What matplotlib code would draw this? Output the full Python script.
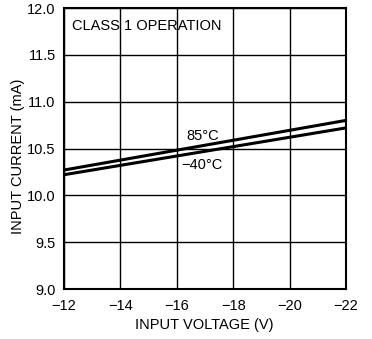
import matplotlib
matplotlib.use("Agg")
import matplotlib.pyplot as plt
from matplotlib.ticker import MultipleLocator, FuncFormatter

plt.rcParams['font.family'] = ['Liberation Sans', 'DejaVu Sans']

# input current vs input voltage, class 1
voltage = [-12, -22]
current_85c = [10.27, 10.80]
current_m40c = [10.22, 10.72]

fig = plt.figure(figsize=(3.72, 3.39), dpi=100)
ax = fig.add_axes([64/372, 1 - 289/339, 282/372, 281/339])

ax.plot(voltage, current_85c, color='black', lw=2.2, solid_capstyle='butt')
ax.plot(voltage, current_m40c, color='black', lw=2.2, solid_capstyle='butt')

ax.set_xlim(-12, -22)
ax.set_ylim(9.0, 12.0)
ax.xaxis.set_major_locator(MultipleLocator(2))
ax.yaxis.set_major_locator(MultipleLocator(0.5))
ax.xaxis.set_major_formatter(FuncFormatter(lambda v, p: f"{v:.0f}".replace('-', '\u2212')))
ax.yaxis.set_major_formatter(FuncFormatter(lambda v, p: f"{v:.1f}"))
ax.grid(True, color='black', lw=1.0)
ax.tick_params(length=0, labelsize=10.5)
ax.tick_params(axis='x', pad=7)
ax.tick_params(axis='y', pad=6)
for s in ax.spines.values():
    s.set_linewidth(1.5)

ax.text(-16.33, 10.63, '85\u00b0C', fontsize=10.5, va='center', ha='left')
ax.text(-16.15, 10.32, '\u221240\u00b0C', fontsize=10.5, va='center', ha='left')
ax.text(0.028, 0.962, 'CLASS 1 OPERATION', transform=ax.transAxes,
        fontsize=10.5, va='top', ha='left')

ax.set_xlabel('INPUT VOLTAGE (V)', fontsize=10.5)
ax.set_ylabel('INPUT CURRENT (mA)', fontsize=10.5)
ax.xaxis.set_label_coords(0.498, -0.103)
ax.yaxis.set_label_coords(-0.138, 0.473)

fig.savefig('out.png', dpi=100)
